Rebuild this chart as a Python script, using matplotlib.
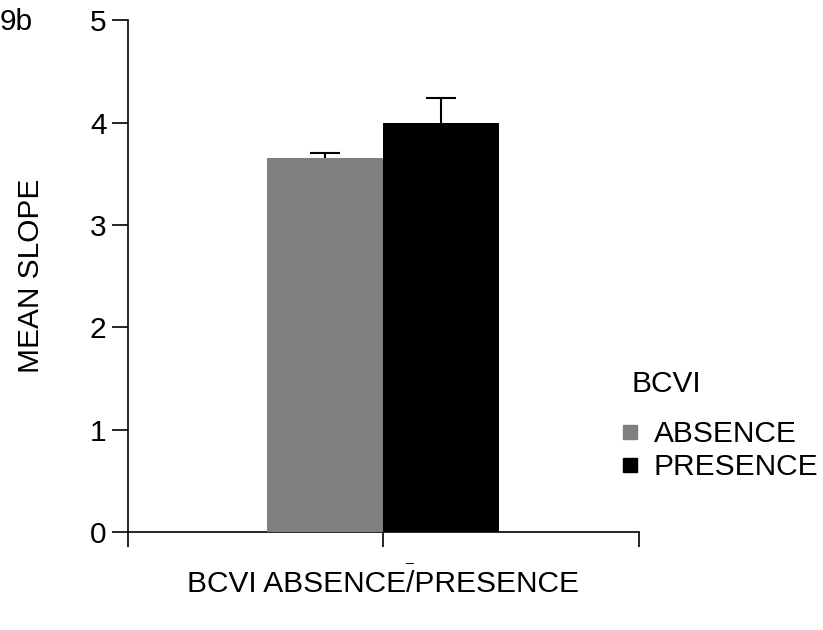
import matplotlib.pyplot as plt
from matplotlib.lines import Line2D

plt.rcParams['font.family'] = ['Liberation Sans', 'DejaVu Sans']

groups = ['ABSENCE', 'PRESENCE']
means = [3.65, 4.00]
errs = [0.05, 0.24]
colors = ['#808080', '#000000']
offsets = [-0.227, 0.227]
bar_w = 0.454

fig = plt.figure(figsize=(8.23, 6.30), dpi=100)
ax = fig.add_axes([0.1555, 0.1556, 0.6205, 0.8124])

for off, m, e, c in zip(offsets, means, errs, colors):
    # bar drawn over the error bar so only the upper half shows
    ax.bar(off, m, width=bar_w, color=c, zorder=3)
    ax.errorbar(off, m, yerr=e, fmt='none', ecolor='black',
                elinewidth=1.5, capsize=10.8, capthick=1.5, zorder=2)

ax.set_xlim(-1, 1)
ax.set_ylim(0, 5)
ax.set_xticks([-1, 0, 1])
ax.set_xticklabels(['', '', ''])
ax.set_yticks([0, 1, 2, 3, 4, 5])
ax.tick_params(axis='y', labelsize=21.5, length=11.5, width=1.2, pad=4)
ax.tick_params(axis='x', length=11, width=1.2)
for s in ['top', 'right']:
    ax.spines[s].set_visible(False)
for s in ['left', 'bottom']:
    ax.spines[s].set_linewidth(1.2)

ax.set_ylabel('MEAN SLOPE', fontsize=21.5, labelpad=32)
ax.set_xlabel('BCVI ABSENCE/PRESENCE', fontsize=21.5, labelpad=13)

handles = [Line2D([], [], marker='s', linestyle='none', color=c, markersize=10)
           for c in colors]
fig.text(0.767, 0.391, 'BCVI', fontsize=21.5, ha='left', va='center')
fig.legend(handles, groups, loc='upper left',
           bbox_to_anchor=(0.747, 0.333), frameon=False, fontsize=21.5,
           handletextpad=0.3, labelspacing=0.17,
           handlelength=1.0, borderpad=0.0, borderaxespad=0.0)

fig.text(0.0, 0.965, '9b', fontsize=21.5, va='center', ha='left')
fig.text(0.497, 0.116, '_', fontsize=10, ha='center', va='center')

fig.savefig('out.png', dpi=100)
